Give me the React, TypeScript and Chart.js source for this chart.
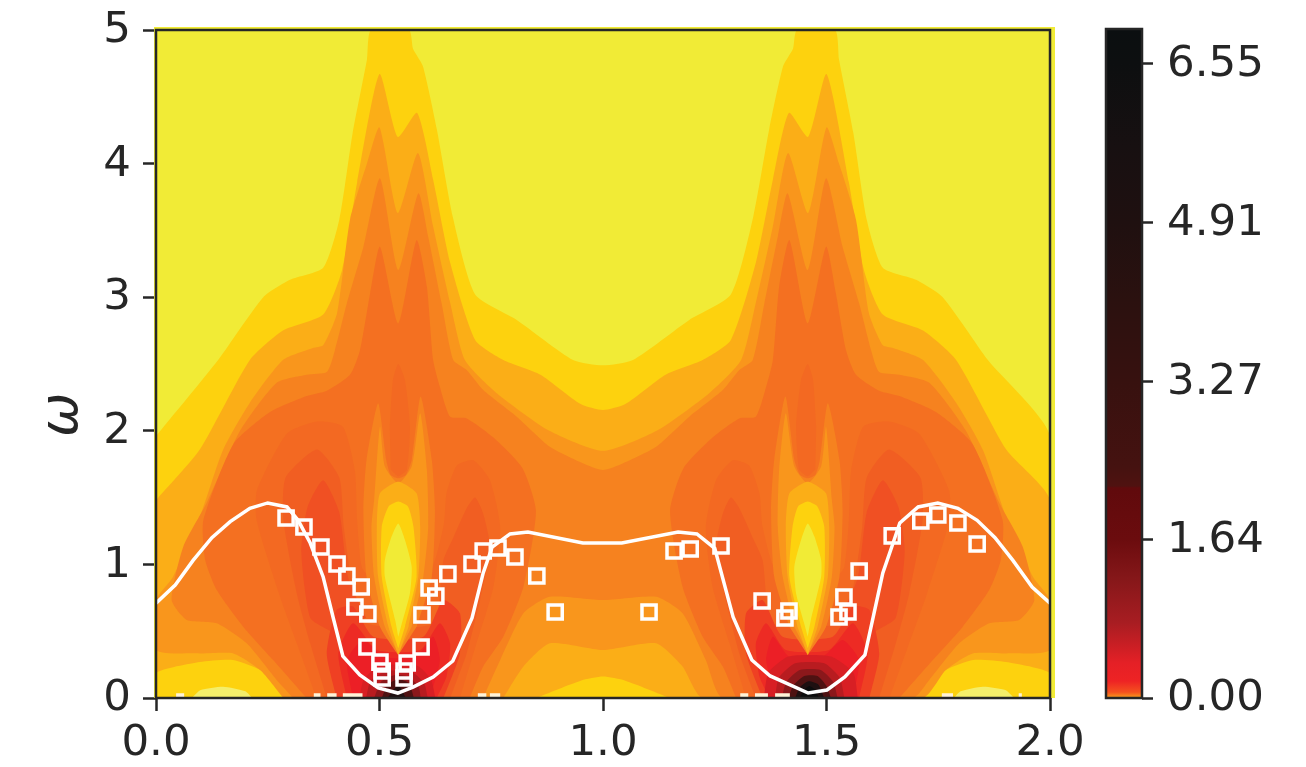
import React, { useEffect, useRef } from "react";
import Chart from "chart.js/auto";

type Pt = [number, number];

const xTicks = [0, 0.5, 1, 1.5, 2];
const yTicks = [0, 1, 2, 3, 4, 5];
const colorbarTicks = [0, 1.64, 3.27, 4.91, 6.55];
const colorbarStops = [0, 0.06, 0.175, 0.36, 0.775, 1.24, 1.64, 2.17, 2.19, 2.39, 3.27, 4.1, 4.91, 5.7, 6.55, 6.91];
const colorbarColors = ["#f9a11b", "#f4511f", "#ee2324", "#e52026", "#a81d22", "#851719", "#6b0c0e", "#600a0c", "#4f1210", "#451210", "#37110f", "#2b110f", "#1f1010", "#171011", "#0d0f10", "#0b0f10"];

const dispersion: Pt[] = [[0, 0.71], [0.043, 0.846], [0.083, 1.03], [0.125, 1.2], [0.166, 1.32], [0.21, 1.42], [0.25, 1.46], [0.293, 1.43], [0.318, 1.33], [0.345, 1.16], [0.374, 0.906], [0.396, 0.606], [0.418, 0.314], [0.456, 0.172], [0.497, 0.075], [0.541, 0.037], [0.575, 0.082], [0.62, 0.157], [0.664, 0.277], [0.707, 0.6], [0.732, 0.936], [0.752, 1.13], [0.792, 1.228], [0.832, 1.243], [0.955, 1.16], [1.042, 1.16], [1.168, 1.243], [1.21, 1.228], [1.25, 1.12], [1.291, 0.606], [1.333, 0.284], [1.374, 0.165], [1.459, 0.037], [1.501, 0.06], [1.541, 0.157], [1.586, 0.322], [1.626, 0.936], [1.649, 1.16], [1.664, 1.31], [1.705, 1.43], [1.749, 1.46], [1.794, 1.42], [1.837, 1.33], [1.877, 1.2], [1.917, 1.03], [1.96, 0.83], [2, 0.71]];

const squares: Pt[] = [[0.291, 1.347], [0.331, 1.28], [0.369, 1.13], [0.405, 1.003], [0.427, 0.913], [0.459, 0.831], [0.445, 0.681], [0.474, 0.629], [0.472, 0.382], [0.501, 0.269], [0.506, 0.202], [0.506, 0.15], [0.555, 0.202], [0.555, 0.15], [0.562, 0.262], [0.593, 0.382], [0.595, 0.621], [0.611, 0.823], [0.626, 0.763], [0.653, 0.928], [0.707, 1.003], [0.732, 1.1], [0.765, 1.123], [0.803, 1.055], [0.852, 0.913], [0.893, 0.644], [1.103, 0.644], [1.159, 1.1], [1.195, 1.115], [1.264, 1.138], [1.356, 0.726], [1.416, 0.651], [1.407, 0.599], [1.528, 0.606], [1.548, 0.644], [1.539, 0.756], [1.573, 0.951], [1.647, 1.213], [1.711, 1.325], [1.749, 1.37], [1.794, 1.31], [1.837, 1.153]];

const C0 = "#F1EB36", C1 = "#FDD20E", C2 = "#FBAE17", C3 = "#F9961C", C4 = "#F6821F", C5 = "#F47021", C6 = "#F36922", C7 = "#F15E22", C8 = "#F05023", R1 = "#EF4023", R2 = "#ED2B24", R3 = "#EC1F26", D0 = "#D81F24", D1 = "#B81C20", D2 = "#8B181B", D3 = "#4E1212", D4 = "#1E1011", D5 = "#0C0C0D", PALE = "#F4EE6A", SPECK = "#FFF3D8";

const full: Pt[] = [[0, 0], [2, 0], [2, 5], [0, 5]];
const gold: Pt[] = [[0, 1.96], [0.139, 2.53], [0.24, 3.0], [0.3, 3.13], [0.374, 3.22], [0.41, 3.58], [0.44, 4.23], [0.472, 4.78], [0.481, 5], [0.566, 5], [0.575, 4.86], [0.597, 4.73], [0.628, 4.26], [0.664, 3.6], [0.714, 3.02], [0.807, 2.83], [0.933, 2.53], [1, 2.49], [1.067, 2.53], [1.193, 2.83], [1.286, 3.02], [1.336, 3.6], [1.372, 4.26], [1.403, 4.73], [1.425, 4.86], [1.434, 5], [1.519, 5], [1.528, 4.78], [1.56, 4.23], [1.59, 3.58], [1.626, 3.22], [1.7, 3.13], [1.76, 3.0], [1.861, 2.53], [2, 1.96], [2, 0], [0, 0]];
const amber: Pt[] = [[0, 1.48], [0.098, 1.86], [0.21, 2.53], [0.284, 2.75], [0.374, 2.87], [0.416, 3.2], [0.45, 3.86], [0.5, 4.67], [0.541, 4.2], [0.584, 4.38], [0.62, 3.88], [0.658, 3.26], [0.714, 2.68], [0.777, 2.53], [0.86, 2.42], [0.95, 2.2], [1, 2.155], [1.05, 2.2], [1.14, 2.42], [1.223, 2.53], [1.286, 2.68], [1.342, 3.26], [1.38, 3.88], [1.416, 4.38], [1.459, 4.2], [1.5, 4.67], [1.55, 3.86], [1.584, 3.2], [1.626, 2.87], [1.716, 2.75], [1.79, 2.53], [1.902, 1.86], [2, 1.48], [2, 0], [0, 0]];
const goldLeft: Pt[] = [[0, 0], [0, 0.187], [0.098, 0.27], [0.172, 0.285], [0.233, 0.21], [0.293, 0.04], [0.31, 0]];
const goldMid: Pt[] = [[0.85, 0], [0.95, 0.13], [1, 0.16], [1.05, 0.13], [1.15, 0]];
const goldRight: Pt[] = [[2, 0], [2, 0.187], [1.902, 0.27], [1.828, 0.285], [1.767, 0.21], [1.707, 0.04], [1.69, 0]];
const paleLeft: Pt[] = [[0.08, 0], [0.1, 0.06], [0.15, 0.085], [0.2, 0.05], [0.215, 0]];
const paleRight: Pt[] = [[1.785, 0], [1.8, 0.05], [1.85, 0.085], [1.9, 0.06], [1.92, 0]];
const band3: Pt[] = [[0.285, 0], [0.233, 0.21], [0.173, 0.334], [0.098, 0.334], [0, 0.36], [0, 0.733], [0.038, 0.906], [0.098, 1.355], [0.15, 1.856], [0.21, 2.21], [0.284, 2.53], [0.351, 2.62], [0.374, 2.64], [0.405, 2.88], [0.434, 3.58], [0.472, 4.0], [0.5, 4.27], [0.541, 3.63], [0.586, 4.08], [0.62, 3.53], [0.658, 2.96], [0.691, 2.53], [0.763, 2.28], [0.88, 2.0], [1, 1.85], [1.12, 2.0], [1.237, 2.28], [1.309, 2.53], [1.342, 2.96], [1.38, 3.53], [1.414, 4.08], [1.459, 3.63], [1.5, 4.27], [1.528, 4.0], [1.566, 3.58], [1.595, 2.88], [1.626, 2.64], [1.649, 2.62], [1.716, 2.53], [1.79, 2.21], [1.85, 1.856], [1.902, 1.355], [1.962, 0.906], [2, 0.733], [2, 0.36], [1.902, 0.334], [1.827, 0.334], [1.767, 0.21], [1.715, 0], [1.223, 0], [1.178, 0.235], [1.119, 0.409], [1, 0.359], [0.881, 0.409], [0.822, 0.235], [0.777, 0]];
const band4: Pt[] = [[0.307, 0], [0.27, 0.135], [0.203, 0.409], [0.136, 0.559], [0.069, 0.584], [0.035, 0.733], [0.061, 1.133], [0.113, 1.457], [0.188, 2.0], [0.27, 2.36], [0.337, 2.42], [0.382, 2.44], [0.4, 2.6], [0.427, 2.954], [0.464, 3.378], [0.501, 3.89], [0.542, 3.204], [0.587, 3.778], [0.609, 3.453], [0.639, 2.954], [0.665, 2.53], [0.695, 2.455], [0.732, 2.305], [0.807, 2.106], [0.881, 1.881], [0.956, 1.756], [1, 1.707], [1.044, 1.756], [1.119, 1.881], [1.193, 2.106], [1.268, 2.305], [1.305, 2.455], [1.335, 2.53], [1.361, 2.954], [1.391, 3.453], [1.413, 3.778], [1.458, 3.204], [1.499, 3.89], [1.536, 3.378], [1.573, 2.954], [1.6, 2.6], [1.618, 2.44], [1.663, 2.42], [1.73, 2.36], [1.812, 2.0], [1.887, 1.457], [1.939, 1.133], [1.965, 0.733], [1.931, 0.584], [1.864, 0.559], [1.797, 0.409], [1.73, 0.135], [1.693, 0], [1.268, 0], [1.23, 0.284], [1.178, 0.634], [1.119, 0.758], [1, 0.733], [0.881, 0.758], [0.822, 0.634], [0.77, 0.284], [0.732, 0]];
const band5L: Pt[] = [[0.337, 0], [0.262, 0.284], [0.195, 0.534], [0.136, 0.808], [0.11, 1.033], [0.106, 1.332], [0.173, 1.9], [0.255, 2.14], [0.337, 2.26], [0.382, 2.3], [0.434, 2.42], [0.456, 2.6], [0.479, 3.03], [0.501, 3.378], [0.542, 2.804], [0.583, 3.428], [0.606, 3.079], [0.62, 2.53], [0.635, 2.33], [0.658, 2.106], [0.695, 2.093], [0.755, 1.95], [0.82, 1.72], [0.85, 1.4], [0.822, 0.833], [0.777, 0.459], [0.732, 0.235], [0.702, 0]];
const band5R: Pt[] = [[1.663, 0], [1.738, 0.284], [1.805, 0.534], [1.864, 0.808], [1.89, 1.033], [1.894, 1.332], [1.827, 1.9], [1.745, 2.14], [1.663, 2.26], [1.618, 2.3], [1.566, 2.42], [1.544, 2.6], [1.521, 3.03], [1.499, 3.378], [1.458, 2.804], [1.417, 3.428], [1.394, 3.079], [1.38, 2.53], [1.365, 2.33], [1.342, 2.106], [1.305, 2.093], [1.245, 1.95], [1.18, 1.72], [1.15, 1.4], [1.178, 0.833], [1.223, 0.459], [1.268, 0.235], [1.298, 0]];
const spireL: Pt[] = [[0.523, 2.03], [0.53, 2.38], [0.542, 2.5], [0.557, 2.38], [0.568, 2.03], [0.561, 1.71], [0.542, 1.66], [0.525, 1.71]];
const spireR: Pt[] = [[1.477, 2.03], [1.47, 2.38], [1.458, 2.5], [1.443, 2.38], [1.432, 2.03], [1.439, 1.71], [1.458, 1.66], [1.475, 1.71]];
const band6L: Pt[] = [[0.359, 0], [0.315, 0.409], [0.275, 0.783], [0.225, 1.332], [0.226, 1.557], [0.293, 1.98], [0.36, 2.07], [0.418, 2.03], [0.445, 1.7], [0.45, 1.33], [0.46, 0.983], [0.479, 0.908], [0.606, 0.908], [0.643, 1.282], [0.65, 1.532], [0.673, 1.74], [0.71, 1.78], [0.747, 1.632], [0.77, 1.282], [0.755, 0.833], [0.717, 0.409], [0.68, 0]];
const band6R: Pt[] = [[1.641, 0], [1.685, 0.409], [1.725, 0.783], [1.775, 1.332], [1.774, 1.557], [1.707, 1.98], [1.64, 2.07], [1.582, 2.03], [1.555, 1.7], [1.55, 1.33], [1.54, 0.983], [1.521, 0.908], [1.394, 0.908], [1.357, 1.282], [1.35, 1.532], [1.327, 1.74], [1.29, 1.78], [1.253, 1.632], [1.23, 1.282], [1.245, 0.833], [1.283, 0.409], [1.32, 0]];
const band7L: Pt[] = [[0.382, 0], [0.345, 0.409], [0.315, 0.783], [0.285, 1.332], [0.29, 1.65], [0.36, 1.86], [0.41, 1.65], [0.42, 1.282], [0.44, 0.833], [0.471, 0.559], [0.62, 0.559], [0.643, 1.033], [0.665, 1.2], [0.695, 1.42], [0.714, 1.5], [0.732, 1.38], [0.747, 1.133], [0.725, 0.733], [0.695, 0.334], [0.658, 0]];
const band7R: Pt[] = [[1.618, 0], [1.655, 0.409], [1.685, 0.783], [1.715, 1.332], [1.71, 1.65], [1.64, 1.86], [1.59, 1.65], [1.58, 1.282], [1.56, 0.833], [1.529, 0.559], [1.38, 0.559], [1.357, 1.033], [1.335, 1.2], [1.305, 1.42], [1.286, 1.5], [1.268, 1.38], [1.253, 1.133], [1.275, 0.733], [1.305, 0.334], [1.342, 0]];
const band8L: Pt[] = [[0.39, 0.5], [0.345, 0.6], [0.325, 1.1], [0.339, 1.43], [0.374, 1.63], [0.41, 1.39], [0.43, 0.9], [0.47, 0.6]];
const band8R: Pt[] = [[1.61, 0.5], [1.655, 0.6], [1.675, 1.1], [1.661, 1.43], [1.626, 1.63], [1.59, 1.39], [1.57, 0.9], [1.53, 0.6]];
const red1L: Pt[] = [[0.404, 0], [0.382, 0.334], [0.404, 0.659], [0.441, 0.684], [0.486, 0.459], [0.598, 0.459], [0.643, 0.733], [0.68, 0.634], [0.68, 0.334], [0.643, 0]];
const red1R: Pt[] = [[1.596, 0], [1.618, 0.334], [1.596, 0.659], [1.559, 0.684], [1.514, 0.459], [1.402, 0.459], [1.357, 0.733], [1.32, 0.634], [1.32, 0.334], [1.357, 0]];
const red2L: Pt[] = [[0.427, 0], [0.408, 0.334], [0.441, 0.559], [0.494, 0.359], [0.591, 0.359], [0.635, 0.559], [0.658, 0.409], [0.65, 0.16], [0.628, 0]];
const red2R: Pt[] = [[1.573, 0], [1.592, 0.334], [1.559, 0.559], [1.506, 0.359], [1.409, 0.359], [1.365, 0.559], [1.342, 0.409], [1.35, 0.16], [1.372, 0]];
const red3L: Pt[] = [[0.441, 0], [0.427, 0.284], [0.464, 0.434], [0.509, 0.309], [0.583, 0.309], [0.62, 0.459], [0.635, 0.284], [0.613, 0]];
const red3R: Pt[] = [[1.559, 0], [1.573, 0.284], [1.536, 0.434], [1.491, 0.309], [1.417, 0.309], [1.38, 0.459], [1.365, 0.284], [1.387, 0]];
const col4L: Pt[] = [[0.542, 0.322], [0.501, 0.534], [0.471, 0.908], [0.464, 1.407], [0.471, 1.781], [0.497, 2.206], [0.515, 1.781], [0.525, 1.669], [0.542, 1.644], [0.559, 1.669], [0.572, 1.781], [0.592, 2.256], [0.617, 1.781], [0.624, 1.407], [0.617, 0.908], [0.583, 0.534]];
const col4R: Pt[] = [[1.458, 0.322], [1.499, 0.534], [1.529, 0.908], [1.536, 1.407], [1.529, 1.781], [1.503, 2.206], [1.485, 1.781], [1.475, 1.669], [1.458, 1.644], [1.441, 1.669], [1.428, 1.781], [1.408, 2.256], [1.383, 1.781], [1.376, 1.407], [1.383, 0.908], [1.417, 0.534]];
const col3L: Pt[] = [[0.542, 0.334], [0.512, 0.534], [0.488, 0.908], [0.482, 1.282], [0.488, 1.482], [0.501, 2.031], [0.512, 1.732], [0.542, 1.607], [0.572, 1.732], [0.591, 2.131], [0.606, 1.707], [0.609, 1.282], [0.598, 0.908], [0.572, 0.534]];
const col3R: Pt[] = [[1.458, 0.334], [1.488, 0.534], [1.512, 0.908], [1.518, 1.282], [1.512, 1.482], [1.499, 2.031], [1.488, 1.732], [1.458, 1.607], [1.428, 1.732], [1.409, 2.131], [1.394, 1.707], [1.391, 1.282], [1.402, 0.908], [1.428, 0.534]];
const col2L: Pt[] = [[0.542, 0.322], [0.52, 0.534], [0.497, 0.908], [0.494, 1.282], [0.501, 1.532], [0.542, 1.619], [0.583, 1.532], [0.591, 1.282], [0.587, 0.908], [0.565, 0.534]];
const col2R: Pt[] = [[1.458, 0.322], [1.48, 0.534], [1.503, 0.908], [1.506, 1.282], [1.499, 1.532], [1.458, 1.619], [1.417, 1.532], [1.409, 1.282], [1.413, 0.908], [1.435, 0.534]];
const col1L: Pt[] = [[0.542, 0.372], [0.527, 0.534], [0.505, 0.908], [0.505, 1.282], [0.52, 1.432], [0.542, 1.47], [0.564, 1.432], [0.576, 1.282], [0.583, 0.908], [0.557, 0.534]];
const col1R: Pt[] = [[1.458, 0.372], [1.473, 0.534], [1.495, 0.908], [1.495, 1.282], [1.48, 1.432], [1.458, 1.47], [1.436, 1.432], [1.424, 1.282], [1.417, 0.908], [1.443, 0.534]];
const tearL: Pt[] = [[0.542, 0.459], [0.535, 0.584], [0.512, 0.908], [0.512, 1.033], [0.527, 1.208], [0.542, 1.307], [0.557, 1.183], [0.572, 0.983], [0.568, 0.783], [0.55, 0.559]];
const tearR: Pt[] = [[1.458, 0.459], [1.465, 0.584], [1.488, 0.908], [1.488, 1.033], [1.473, 1.208], [1.458, 1.307], [1.443, 1.183], [1.428, 0.983], [1.432, 0.783], [1.45, 0.559]];
const darkL0: Pt[] = [[0.455, 0], [0.465, 0.14], [0.5, 0.24], [0.585, 0.24], [0.615, 0.14], [0.625, 0]];
const darkL1: Pt[] = [[0.47, 0], [0.48, 0.13], [0.515, 0.2], [0.57, 0.2], [0.6, 0.11], [0.608, 0]];
const darkL2: Pt[] = [[0.488, 0], [0.503, 0.12], [0.533, 0.17], [0.565, 0.16], [0.588, 0.08], [0.592, 0]];
const darkL3: Pt[] = [[0.505, 0], [0.518, 0.1], [0.542, 0.14], [0.566, 0.11], [0.577, 0]];
const darkL4: Pt[] = [[0.518, 0], [0.542, 0.095], [0.559, 0]];
const darkR0: Pt[] = [[1.36, 0], [1.37, 0.19], [1.415, 0.31], [1.51, 0.31], [1.56, 0.19], [1.57, 0]];
const darkR1: Pt[] = [[1.385, 0], [1.393, 0.15], [1.43, 0.26], [1.495, 0.26], [1.53, 0.15], [1.54, 0]];
const darkR2: Pt[] = [[1.4, 0], [1.41, 0.12], [1.44, 0.21], [1.487, 0.21], [1.515, 0.12], [1.525, 0]];
const darkR3: Pt[] = [[1.415, 0], [1.425, 0.09], [1.45, 0.165], [1.48, 0.165], [1.5, 0.09], [1.51, 0]];
const darkR4: Pt[] = [[1.43, 0], [1.44, 0.08], [1.46, 0.125], [1.482, 0.1], [1.495, 0]];
const darkR5: Pt[] = [[1.44, 0], [1.45, 0.06], [1.462, 0.09], [1.475, 0.06], [1.483, 0]];
const speckSpans: Pt[] = [[0.045, 0.063], [0.353, 0.368], [0.383, 0.404], [0.418, 0.462], [0.72, 0.739], [0.747, 0.77], [1.307, 1.325], [1.34, 1.369], [1.385, 1.418], [1.758, 1.783], [1.93, 1.937]];

const layers: [Pt[], string][] = [
  [full, C0], [gold, C1], [amber, C2], [goldLeft, C1], [goldMid, C1], [goldRight, C1], [paleLeft, PALE], [paleRight, PALE],
  [band3, C3], [band4, C4], [band5L, C5], [band5R, C5], [spireL, C6], [spireR, C6],
  [band6L, C6], [band6R, C6], [band7L, C7], [band7R, C7], [band8L, C8], [band8R, C8], [red1L, R1], [red1R, R1], [red2L, R2], [red2R, R2], [red3L, R3], [red3R, R3],
  [col4L, C4], [col4R, C4], [col3L, C3], [col3R, C3], [col2L, C2], [col2R, C2], [col1L, C1], [col1R, C1], [tearL, C0], [tearR, C0],
  [darkL0, D0], [darkL1, D1], [darkL2, D2], [darkL3, D3], [darkL4, D4], [darkR0, D0], [darkR1, D1], [darkR2, D2], [darkR3, D3], [darkR4, D4], [darkR5, D5],
];

const INK = "#262626";
const FONT = "'DejaVu Sans'";
const toXY = (list: Pt[]) => list.map(([x, y]) => ({ x, y }));
const noScalePadding = (s: any) => { s.paddingTop = 0; s.paddingBottom = 0; };

const frame = {
  id: "frame",
  afterDatasetsDraw(chart: any) {
    const { ctx, chartArea: a } = chart;
    ctx.save();
    ctx.strokeStyle = INK;
    ctx.lineWidth = 2.5;
    ctx.strokeRect(a.left, a.top, a.right - a.left, a.bottom - a.top);
    ctx.restore();
  },
};

const halo = {
  id: "halo",
  beforeDatasetsDraw(chart: any) {
    const { ctx, chartArea: a } = chart;
    ctx.save();
    ctx.fillStyle = C0;
    ctx.fillRect(a.left - 2, a.top - 3, a.right - a.left + 7, a.bottom - a.top + 3);
    ctx.restore();
  },
};

const omega = {
  id: "omega",
  afterDraw(chart: any) {
    const { ctx, scales } = chart;
    ctx.save();
    ctx.translate(77, scales.y.getPixelForValue(2.12));
    ctx.rotate(-Math.PI / 2);
    ctx.fillStyle = INK;
    ctx.font = `italic 53px ${FONT}`;
    ctx.textAlign = "center";
    ctx.textBaseline = "alphabetic";
    ctx.fillText("ω", 0, 0);
    ctx.restore();
  },
};

export default function App() {
  const mainRef = useRef<HTMLCanvasElement>(null);
  const barRef = useRef<HTMLCanvasElement>(null);

  useEffect(() => {
    const tickFont = { family: FONT, size: 43.5 };
    const polys: any[] = layers.map(([list, color], i) => ({
      type: "scatter",
      data: toXY(list),
      showLine: true,
      fill: "shape",
      backgroundColor: color,
      borderWidth: 0,
      borderColor: "transparent",
      pointRadius: 0,
      tension: 0.2,
      order: 2000 - i,
    }));
    const specks: any[] = speckSpans.map(([a, b], i) => ({
      type: "scatter",
      data: [{ x: a, y: 0 }, { x: a, y: 0.035 }, { x: b, y: 0.035 }, { x: b, y: 0 }],
      showLine: true,
      fill: "shape",
      backgroundColor: SPECK,
      borderWidth: 0,
      pointRadius: 0,
      order: 500 - i,
    }));
    const main = new Chart(mainRef.current!, {
      type: "scatter",
      data: {
        datasets: [
          ...polys,
          ...specks,
          { type: "scatter", data: toXY(dispersion), showLine: true, fill: false, borderColor: "#ffffff", borderWidth: 3.5, pointRadius: 0, order: 2 },
          { type: "scatter", data: toXY(squares), showLine: false, pointStyle: "rect", pointRadius: 10, pointBorderWidth: 3.5, pointBorderColor: "#ffffff", pointBackgroundColor: "rgba(0,0,0,0)", order: 1 },
        ],
      },
      options: {
        responsive: false,
        animation: false,
        layout: { autoPadding: false, padding: { top: 30, right: 256, left: 0, bottom: 0 } },
        plugins: { legend: { display: false }, tooltip: { enabled: false } },
        scales: {
          x: {
            type: "linear", min: 0, max: 2,
            afterBuildTicks: (s: any) => { s.ticks = xTicks.map((value) => ({ value })); },
            afterFit: (s: any) => { s.height = 69; },
            grid: { drawOnChartArea: false, drawTicks: true, tickLength: 13, tickWidth: 2.5, tickColor: INK },
            border: { display: false },
            ticks: { color: INK, font: tickFont, padding: 7, maxRotation: 0, autoSkip: false, callback: (v: any) => Number(v).toFixed(1) },
          },
          y: {
            type: "linear", min: 0, max: 5,
            afterBuildTicks: (s: any) => { s.ticks = yTicks.map((value) => ({ value })); },
            afterFit: (s: any) => { s.width = 156; noScalePadding(s); },
            grid: { drawOnChartArea: false, drawTicks: true, tickLength: 13, tickWidth: 2.5, tickColor: INK },
            border: { display: false },
            ticks: { color: INK, font: tickFont, padding: 12, labelOffset: 1, autoSkip: false, callback: (v: any) => String(v) },
          },
        },
      },
      plugins: [halo, frame, omega],
    } as any);

    const bar = new Chart(barRef.current!, {
      type: "bar",
      data: {
        labels: ["colorbar"],
        datasets: [{
          data: [[0, 6.91]],
          barPercentage: 1,
          categoryPercentage: 1,
          borderWidth: 0,
          backgroundColor: (c: any) => {
            const a = c.chart.chartArea;
            if (!a) return colorbarColors[0];
            const g = c.chart.ctx.createLinearGradient(0, a.bottom, 0, a.top);
            colorbarStops.forEach((v, i) => g.addColorStop(v / 6.91, colorbarColors[i]));
            return g;
          },
        }],
      },
      options: {
        responsive: false,
        animation: false,
        layout: { autoPadding: false, padding: { top: 29, bottom: 69, left: 56, right: 0 } },
        plugins: { legend: { display: false }, tooltip: { enabled: false } },
        scales: {
          x: { display: false },
          y: {
            position: "right", min: 0, max: 6.91,
            afterBuildTicks: (s: any) => { s.ticks = colorbarTicks.map((value) => ({ value })); },
            afterFit: (s: any) => { s.width = 164; noScalePadding(s); },
            grid: { drawOnChartArea: false, drawTicks: true, tickLength: 11, tickWidth: 2.5, tickColor: INK },
            border: { display: false },
            ticks: { color: INK, font: tickFont, padding: 14, labelOffset: 1, autoSkip: false, callback: (v: any) => Number(v).toFixed(2) },
          },
        },
      },
      plugins: [frame],
    } as any);

    return () => { main.destroy(); bar.destroy(); };
  }, []);

  const base: React.CSSProperties = { position: "absolute", top: 0, display: "block", filter: "blur(0.6px)" };
  return (
    <div style={{ position: "absolute", left: 0, top: 0, width: 1306, height: 767, background: "#fff", overflow: "hidden" }}>
      <canvas ref={mainRef} width={1306} height={767} style={{ ...base, left: 0 }} />
      <canvas ref={barRef} width={256} height={767} style={{ ...base, left: 1050 }} />
    </div>
  );
}
